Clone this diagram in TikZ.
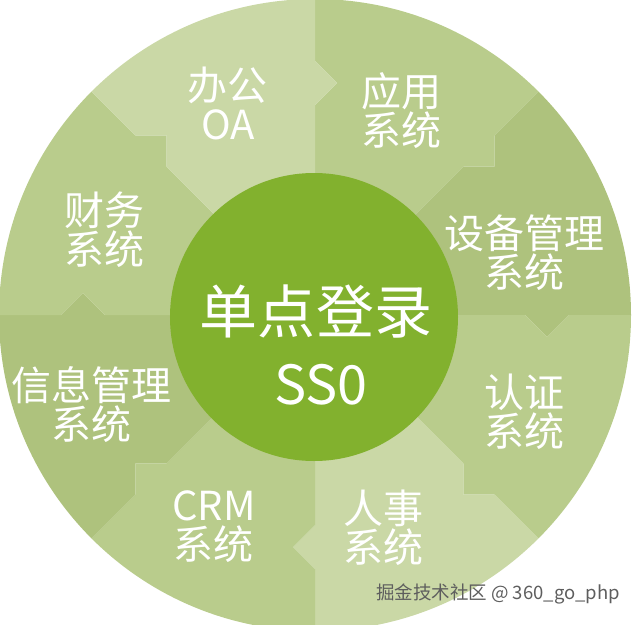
\documentclass[tikz,border=0pt]{standalone}
\usepackage{fontspec}
\newfontfamily\cjk{Noto Sans CJK SC}
\usetikzlibrary{calc}
\definecolor{segLight}{HTML}{CAD8A6}
\definecolor{segMid}{HTML}{B9CC8C}
\definecolor{segDark}{HTML}{AEC27D}
\definecolor{coreGreen}{HTML}{82B12E}
\definecolor{markGray}{HTML}{5E5E5E}
\tikzset{
  lbl/.style={text=white, font=\cjk\fontsize{40}{39}\selectfont, align=center, inner sep=0pt},
  corelbl/.style={text=white, inner sep=0pt},
  wmark/.style={text=markGray, font=\cjk\fontsize{18.5}{22}\selectfont, inner sep=0pt}
}
\begin{document}
\begin{tikzpicture}[x=1pt,y=1pt]
\useasboundingbox (-315,-309) rectangle (321,315);
\begin{scope}
  \clip (0,0) circle (316);
  \foreach \hi/\col in {90/segMid, 45/segDark, 0/segMid, -45/segLight, -90/segMid, -135/segDark, 180/segMid, 135/segLight}{
    \pgfmathsetmacro\lo{\hi-45}
    \fill[\col] (0,0) -- (\lo:210) -- ($(\lo:232)+({\lo-90}:22)$) -- (\lo:254) -- (\lo:460)
      -- (\hi:460) -- (\hi:254) -- ($(\hi:232)+({\hi-90}:22)$) -- (\hi:210) -- cycle;
  }
\end{scope}
\node[circle, fill=coreGreen, minimum size=288pt, inner sep=0pt] (core) at (-1,-2) {};
\node[corelbl, font=\cjk\fontsize{58}{60}\selectfont] (coreA) at (1,3) {单点登录};
\node[corelbl, font=\cjk\fontsize{54}{60}\selectfont] (coreB) at (6,-70) {SS0};
\node[lbl] (oa) at (-87,212) {办公\\OA};
\node[lbl] (app) at (86,204) {应用\\系统};
\node[lbl] (dev) at (209,62) {设备管理\\系统};
\node[lbl] (auth) at (209,-97) {认证\\系统};
\node[lbl] (hr) at (68,-213) {人事\\系统};
\node[lbl] (crm) at (-101,-212) {CRM\\系统};
\node[lbl] (info) at (-223,-90) {信息管理\\系统};
\node[lbl] (fin) at (-210,85) {财务\\系统};
\node[wmark] (mark) at (183,-279) {掘金技术社区 @ 360\_go\_php};
\end{tikzpicture}
\end{document}
